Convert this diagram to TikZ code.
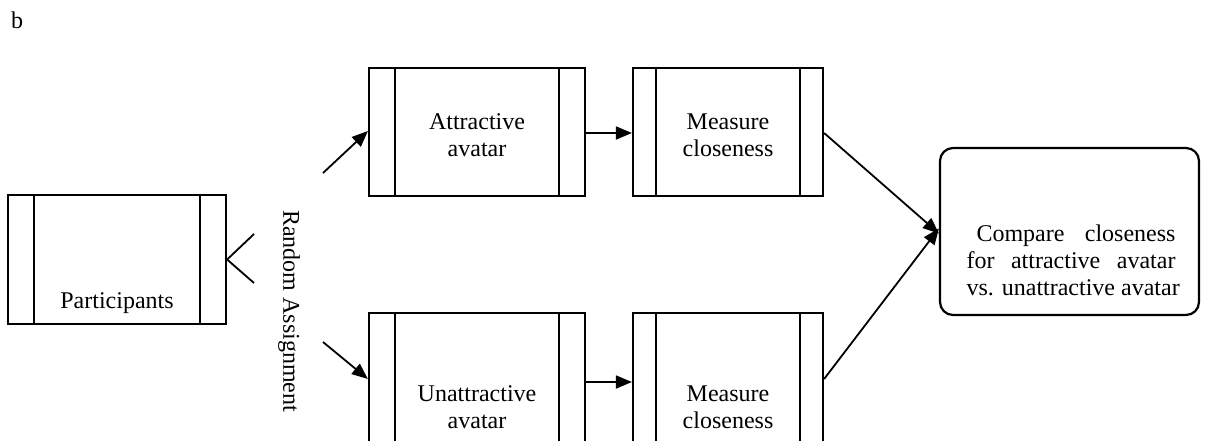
\documentclass[tikz,border=0pt]{standalone}
\usepackage{fontspec}
\setmainfont{Liberation Serif}
\usetikzlibrary{arrows.meta}
\tikzset{
  box/.style={draw, line width=2.2pt, inner sep=0pt, minimum width=#1},
  bar/.style={line width=2.2pt},
  conn/.style={line width=1.8pt},
  arr/.style={conn, -{Triangle[length=16pt,width=13pt]}},
  txt/.style={font=\fontsize{24}{27}\selectfont, align=center, inner sep=0pt},
}
\begin{document}
\begin{tikzpicture}[x=1pt,y=-1pt]
\useasboundingbox (0,0) rectangle (1214,440);
\node[font=\fontsize{24}{27}\selectfont, inner sep=0pt] (lab) at (17,20) {b};
% boxes
\node[box=218pt, minimum height=129pt] (part) at (117,259.5) {};
\node[box=216pt, minimum height=128pt] (attr) at (477,132) {};
\node[box=190pt, minimum height=128pt] (meas1) at (728,132) {};
\node[box=216pt, minimum height=132pt] (unat) at (477,379) {};
\node[box=190pt, minimum height=132pt] (meas2) at (728,379) {};
\node[draw, line width=2.2pt, rounded corners=13pt, minimum width=259pt, minimum height=167pt, inner sep=0pt] (comp) at (1069.5,231.5) {};
% inner bars
\foreach \n/\d in {part/27, attr/27, unat/27, meas1/24, meas2/24}{
  \draw[bar] ([xshift=\d pt]\n.north west) -- ([xshift=\d pt]\n.south west);
  \draw[bar] ([xshift=-\d pt]\n.north east) -- ([xshift=-\d pt]\n.south east);
}
% texts
\node[txt] (tpart) at (117,303) {Participants};
\node[txt] (tattr) at (477,135) {Attractive\\avatar};
\node[txt] (tmeas1) at (728,135) {Measure\\closeness};
\node[txt] (tunat) at (477,407) {Unattractive\\avatar};
\node[txt] (tmeas2) at (728,407) {Measure\\closeness};
\node[txt, align=left] (tcomp) at (1071,260) {\makebox[209pt][s]{\hspace*{10pt}Compare closeness}\\\makebox[209pt][s]{for attractive avatar}\\\makebox[209pt][l]{vs. unattractive avatar}};
\node[txt, rotate=-90] (rand) at (289,311) {Random Assignment};
% fork
\coordinate (f1) at (254,234);
\coordinate (f2) at (254,283);
\coordinate (s1) at (323,173);
\coordinate (s2) at (323,342);
\draw[conn] (f1) -- (part.east) -- (f2);
\draw[arr] (s1) -- ([yshift=1pt]attr.west);
\draw[arr] (s2) -- (unat.west);
\draw[arr] ([yshift=-1pt]attr.east) -- ([yshift=-1pt]meas1.west);
\draw[arr] ([yshift=-3pt]unat.east) -- ([yshift=-3pt]meas2.west);
\draw[arr] ([yshift=-1pt]meas1.east) -- ([yshift=-2pt]comp.west);
\draw[arr] (meas2.east) -- ([yshift=3pt]comp.west);
\end{tikzpicture}
\end{document}
